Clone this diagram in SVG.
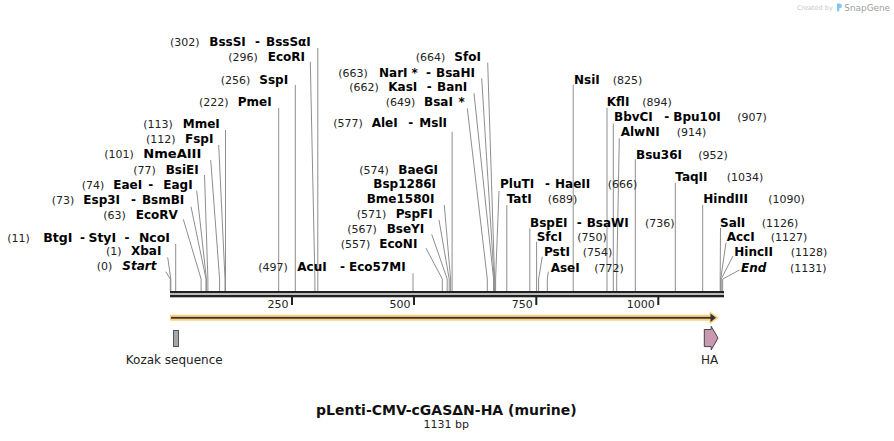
<svg xmlns="http://www.w3.org/2000/svg" width="894" height="441" viewBox="0 0 894 441">
<style>
text{font-family:"DejaVu Sans",Verdana,sans-serif;}
.n{font-size:11px;fill:#222;}
.b{font-size:12px;font-weight:bold;fill:#000;}
.bi{font-size:12px;font-weight:bold;font-style:italic;fill:#000;}
.ln{stroke:#8e8e8e;stroke-width:1;fill:none;}
.tk{font-size:11px;fill:#222;text-anchor:end;}
.fl{font-size:12px;fill:#222;text-anchor:middle;}
</style>
<rect width="894" height="441" fill="#fff"/>

<g id="watermark">
<text x="797" y="10" style="font-size:6.5px;fill:#c8c8c8">Created by</text>
<path d="M837 3.5h2.5a2.4 2.4 0 0 1 0 4.8h-0.2v3h-2.3z" fill="#7cc8ee"/>
<text x="844.3" y="10.8" style="font-size:8.9px;fill:#a0a0a0">SnapGene</text>
</g>

<g id="connectors">
<!-- left -->
<polyline class="ln" points="317.8,48 317.8,291"/>
<polyline class="ln" points="310.3,62 314.9,279 314.9,291"/>
<polyline class="ln" points="295.3,85 295.3,291"/>
<polyline class="ln" points="278.7,108 278.7,291"/>
<polyline class="ln" points="225.5,130 225.5,291"/>
<polyline class="ln" points="218.7,145 225,279 225,291"/>
<polyline class="ln" points="210.7,160 219.6,279 219.6,291"/>
<polyline class="ln" points="204.5,175 207.9,279 207.9,291"/>
<polyline class="ln" points="196.7,190.7 206.4,279 206.4,291"/>
<polyline class="ln" points="191,206.7 206,279 206,291"/>
<polyline class="ln" points="183.3,219.3 201.1,279 201.1,291"/>
<polyline class="ln" points="175.7,244 175.7,291"/>
<polyline class="ln" points="167.7,257.3 170.8,279 170.8,291"/>
<polyline class="ln" points="165.7,271.7 170.3,279 170.3,291"/>
<!-- middle -->
<polyline class="ln" points="444.3,205 450.6,279 450.6,291"/>
<polyline class="ln" points="439,220 449.2,279 449.2,291"/>
<polyline class="ln" points="431.7,234.3 447.2,279 447.2,291"/>
<polyline class="ln" points="426,248.3 442.3,279 442.3,291"/>
<polyline class="ln" points="413,273.3 413,291"/>
<polyline class="ln" points="452.1,131.7 452.1,291"/>
<polyline class="ln" points="467.3,108.3 487.3,279 487.3,291"/>
<polyline class="ln" points="474,93.3 493.6,279 493.6,291"/>
<polyline class="ln" points="481.7,78.3 494.1,279 494.1,291"/>
<polyline class="ln" points="487.7,62.7 494.6,279 494.6,291"/>
<!-- right -->
<polyline class="ln" points="499,191 495.6,279 495.6,291"/>
<polyline class="ln" points="506.8,205 506.8,291"/>
<polyline class="ln" points="529.8,228.3 529.8,291"/>
<polyline class="ln" points="536.6,241.7 536.6,291"/>
<polyline class="ln" points="542.3,256.7 538.6,279 538.6,291"/>
<polyline class="ln" points="548.3,271.7 547.3,279 547.3,291"/>
<polyline class="ln" points="573.2,85 573.2,291"/>
<polyline class="ln" points="607,107.7 607,291"/>
<polyline class="ln" points="613.3,123.3 613.3,291"/>
<polyline class="ln" points="619.3,138.3 616.7,279 616.7,291"/>
<polyline class="ln" points="635.3,159.3 635.3,291"/>
<polyline class="ln" points="675.3,182.7 675.3,291"/>
<polyline class="ln" points="702.7,205 702.7,291"/>
<polyline class="ln" points="720.5,228 720.2,279 720.2,291"/>
<polyline class="ln" points="726,242.7 720.7,279 720.7,291"/>
<polyline class="ln" points="733,256 721.2,279 721.2,291"/>
<polyline class="ln" points="739.5,270 722.7,279 722.7,291"/>
</g>

<g id="backbone">
<rect x="170" y="291" width="554" height="2.3" fill="#222"/>
<rect x="170" y="294.7" width="554" height="2.6" fill="#222"/>
<rect x="291" y="297" width="2" height="8" fill="#222"/>
<rect x="413" y="297" width="2" height="8" fill="#222"/>
<rect x="535.3" y="297" width="2" height="8" fill="#222"/>
<rect x="657.3" y="297" width="2" height="8" fill="#222"/>
<text class="tk" x="288.5" y="308.3">250</text>
<text class="tk" x="410.5" y="308.3">500</text>
<text class="tk" x="532.8" y="308.3">750</text>
<text class="tk" x="654.8" y="308.3">1000</text>
</g>

<g id="orf">
<rect x="170" y="314.7" width="541" height="6" fill="#fbcf7c"/>
<polygon points="709.5,311.3 719,317.7 709.5,324.2" fill="#fbcf7c"/>
<rect x="171" y="316.9" width="541" height="1.8" fill="#333"/>
<polygon points="710.5,313.6 716,317.8 710.5,322" fill="#333"/>
</g>

<g id="kozak">
<rect x="173.5" y="330.5" width="5" height="16" fill="#a3a7ae" stroke="#555" stroke-width="1"/>
<text class="fl" x="174.2" y="363.5">Kozak sequence</text>
</g>

<g id="ha">
<polygon points="704.3,329.5 711.2,329.5 711.2,326.3 718,338 711.2,350 711.2,346.6 704.3,346.6" fill="#c999b2" stroke="#444" stroke-width="1"/>
<text class="fl" x="709.5" y="363.5">HA</text>
</g>

<g id="title">
<text x="446.3" y="415" text-anchor="middle" style="font-size:14px;font-weight:bold;fill:#111">pLenti-CMV-cGASΔN-HA (murine)</text>
<text x="446.3" y="428.3" text-anchor="middle" style="font-size:11px;fill:#222">1131 bp</text>
</g>

<!-- left labels -->
<g id="s302"><text y="46.3"><tspan class="n" x="170">(302)</tspan><tspan class="b" x="209.3">BssSI</tspan><tspan class="b" x="255">-</tspan><tspan class="b" x="266">BssSαI</tspan></text></g>
<g id="s296"><text y="61"><tspan class="n" x="228.3">(296)</tspan><tspan class="b" x="267.7">EcoRI</tspan></text></g>
<g id="s256"><text y="84.3"><tspan class="n" x="220.7">(256)</tspan><tspan class="b" x="259.3">SspI</tspan></text></g>
<g id="s222"><text y="106"><tspan class="n" x="199">(222)</tspan><tspan class="b" x="237.7">PmeI</tspan></text></g>
<g id="s113"><text y="127.8"><tspan class="n" x="143.3">(113)</tspan><tspan class="b" x="182.7">MmeI</tspan></text></g>
<g id="s112"><text y="143"><tspan class="n" x="146">(112)</tspan><tspan class="b" x="185">FspI</tspan></text></g>
<g id="s101"><text y="157.6"><tspan class="n" x="104.3">(101)</tspan></text><text class="b" x="143.3" y="157.6" textLength="58" lengthAdjust="spacingAndGlyphs">NmeAIII</text></g>
<g id="s77"><text y="173.5"><tspan class="n" x="133.3">(77)</tspan><tspan class="b" x="165.7">BsiEI</tspan></text></g>
<g id="s74"><text y="188.5"><tspan class="n" x="81.7">(74)</tspan><tspan class="b" x="113.3">EaeI</tspan><tspan class="b" x="148.3">-</tspan><tspan class="b" x="163.3">EagI</tspan></text></g>
<g id="s73"><text y="203.8"><tspan class="n" x="51.7">(73)</tspan><tspan class="b" x="83.3">Esp3I</tspan><tspan class="b" x="131">-</tspan><tspan class="b" x="141.9">BsmBI</tspan></text></g>
<g id="s63"><text y="218.5"><tspan class="n" x="103.3">(63)</tspan><tspan class="b" x="135.7">EcoRV</tspan></text></g>
<g id="s11"><text class="n" x="7.3" y="241.8">(11)</text>
<text class="b" x="43.3" y="241.8" textLength="29.2" lengthAdjust="spacingAndGlyphs">BtgI</text>
<text class="b" x="80" y="241.8">-</text>
<text class="b" x="88.5" y="241.8" textLength="27.5" lengthAdjust="spacingAndGlyphs">StyI</text>
<text class="b" x="124.5" y="241.8">-</text>
<text class="b" x="138.9" y="241.8" textLength="31.1" lengthAdjust="spacingAndGlyphs">NcoI</text></g>
<g id="s1"><text y="255.1"><tspan class="n" x="106">(1)</tspan><tspan class="b" x="131">XbaI</tspan></text></g>
<g id="s0"><text y="270.1"><tspan class="n" x="96.7">(0)</tspan><tspan class="bi" x="122.3">Start</tspan></text></g>

<!-- middle labels -->
<g id="s574"><text y="173.5"><tspan class="n" x="359.3">(574)</tspan><tspan class="b" x="398.3">BaeGI</tspan></text>
<text y="187.8"><tspan class="b" x="373.3">Bsp1286I</tspan></text>
<text y="202.6"><tspan class="b" x="366.7">Bme1580I</tspan></text></g>
<g id="s571"><text y="217.6"><tspan class="n" x="356.7">(571)</tspan><tspan class="b" x="395.7">PspFI</tspan></text></g>
<g id="s567"><text y="232.6"><tspan class="n" x="347.3">(567)</tspan><tspan class="b" x="386.7">BseYI</tspan></text></g>
<g id="s557"><text y="247.6"><tspan class="n" x="340.7">(557)</tspan><tspan class="b" x="379.3">EcoNI</tspan></text></g>
<g id="s497"><text y="271"><tspan class="n" x="258.3">(497)</tspan><tspan class="b" x="297.3">AcuI</tspan><tspan class="b" x="340">-</tspan><tspan class="b" x="349">Eco57MI</tspan></text></g>
<g id="s664"><text y="61.1"><tspan class="n" x="415.7">(664)</tspan><tspan class="b" x="454.3">SfoI</tspan></text></g>
<g id="s663"><text y="76.8"><tspan class="n" x="338.3">(663)</tspan><tspan class="b" x="379">NarI</tspan><tspan class="b" x="411.5">*</tspan><tspan class="b" x="426">-</tspan><tspan class="b" x="436">BsaHI</tspan></text></g>
<g id="s662"><text y="90.8"><tspan class="n" x="349.3">(662)</tspan><tspan class="b" x="388.3">KasI</tspan><tspan class="b" x="426.7">-</tspan><tspan class="b" x="437">BanI</tspan></text></g>
<g id="s649"><text y="106.1"><tspan class="n" x="385.7">(649)</tspan><tspan class="b" x="424">BsaI</tspan><tspan class="b" x="458.5">*</tspan></text></g>
<g id="s577"><text y="126.8"><tspan class="n" x="333.3">(577)</tspan><tspan class="b" x="371.7">AleI</tspan><tspan class="b" x="408.3">-</tspan><tspan class="b" x="419.3">MslI</tspan></text></g>

<!-- right labels -->
<g id="s666"><text y="188.1"><tspan class="b" x="500">PluTI</tspan><tspan class="b" x="545">-</tspan><tspan class="b" x="555">HaeII</tspan><tspan class="n" x="607.7">(666)</tspan></text></g>
<g id="s689"><text y="202.8"><tspan class="b" x="506.7">TatI</tspan><tspan class="n" x="547.7">(689)</tspan></text></g>
<g id="s736"><text y="226.5"><tspan class="b" x="530">BspEI</tspan><tspan class="b" x="576.7">-</tspan><tspan class="b" x="586.7">BsaWI</tspan><tspan class="n" x="645">(736)</tspan></text></g>
<g id="s750"><text y="241.1"><tspan class="b" x="536.7">SfcI</tspan><tspan class="n" x="577.3">(750)</tspan></text></g>
<g id="s754"><text y="256.1"><tspan class="b" x="544">PstI</tspan><tspan class="n" x="582.7">(754)</tspan></text></g>
<g id="s772"><text y="271.5"><tspan class="b" x="550.7">AseI</tspan><tspan class="n" x="594.3">(772)</tspan></text></g>
<g id="s825"><text y="83.5"><tspan class="b" x="574">NsiI</tspan><tspan class="n" x="612.7">(825)</tspan></text></g>
<g id="s894"><text y="106.1"><tspan class="b" x="606.7">KflI</tspan><tspan class="n" x="642.3">(894)</tspan></text></g>
<g id="s907"><text y="121"><tspan class="b" x="614">BbvCI</tspan><tspan class="b" x="664.3">-</tspan><tspan class="b" x="673.3">Bpu10I</tspan><tspan class="n" x="737.3">(907)</tspan></text></g>
<g id="s914"><text y="136.1"><tspan class="b" x="620.7">AlwNI</tspan><tspan class="n" x="676.7">(914)</tspan></text></g>
<g id="s952"><text y="158.5"><tspan class="b" x="636">Bsu36I</tspan><tspan class="n" x="698.3">(952)</tspan></text></g>
<g id="s1034"><text y="181"><tspan class="b" x="675.3">TaqII</tspan><tspan class="n" x="726.7">(1034)</tspan></text></g>
<g id="s1090"><text y="202.8"><tspan class="b" x="703.3">HindIII</tspan><tspan class="n" x="768.3">(1090)</tspan></text></g>
<g id="s1126"><text y="226.5"><tspan class="b" x="720">SalI</tspan><tspan class="n" x="761.7">(1126)</tspan></text></g>
<g id="s1127"><text y="241.1"><tspan class="b" x="726.7">AccI</tspan><tspan class="n" x="770.7">(1127)</tspan></text></g>
<g id="s1128"><text y="256.1"><tspan class="b" x="734.3">HincII</tspan><tspan class="n" x="790.7">(1128)</tspan></text></g>
<g id="s1131"><text y="271.5"><tspan class="bi" x="741">End</tspan><tspan class="n" x="790">(1131)</tspan></text></g>
</svg>
